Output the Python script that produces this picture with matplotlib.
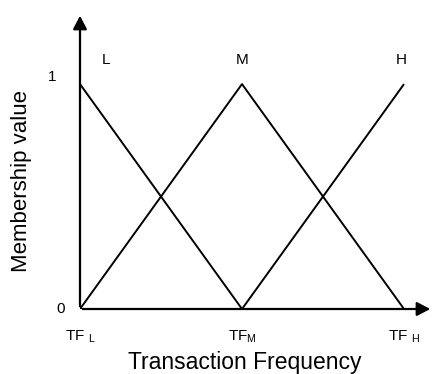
import matplotlib.pyplot as plt

plt.rcParams['font.family'] = ['Liberation Sans', 'DejaVu Sans']
plt.rcParams['mathtext.fontset'] = 'custom'
plt.rcParams['mathtext.rm'] = 'Liberation Sans'

# fuzzy sets on transaction frequency (0 = TF_L, 1 = TF_M, 2 = TF_H)
tf_points = [0, 1, 2]
low = [1, 0, 0]
medium = [0, 1, 0]
high = [0, 0, 1]
set_names = ['L', 'M', 'H']
tick_labels = [r'TF $_{\mathrm{L}}$', r'TF$_{\mathrm{M}}$', r'TF $_{\mathrm{H}}$']

fig = plt.figure(figsize=(4.34, 3.74), dpi=100)
ax = fig.add_axes([80 / 434, 65 / 374, 353 / 434, 296 / 374])
ax.set_xlim(0, 2.179)
ax.set_ylim(0, 1.316)

for series in (low, medium, high):
    ax.plot(tf_points, series, color='black', lw=1.4, solid_capstyle='butt')

for s in ax.spines.values():
    s.set_visible(False)
ax.set_xticks([])
ax.set_yticks([])

# axes with arrow heads
arrow = dict(arrowstyle='-|>,head_length=0.8,head_width=0.42', color='black', lw=1.6)
ax.annotate('', xy=(2.179, 0), xytext=(0, 0), arrowprops=arrow, annotation_clip=False)
ax.annotate('', xy=(0, 1.316), xytext=(0, 0), arrowprops=arrow, annotation_clip=False)

# set names above the peaks
name_x = [0.16, 1, 1.98]
for x, name in zip(name_x, set_names):
    ax.text(x, 1.105, name, ha='center', va='center', fontsize=11)

ax.text(-0.17, 1.03, '1', ha='center', va='center', fontsize=11)
ax.text(-0.12, 0, '0', ha='center', va='center', fontsize=11)

for x, lab in zip(tf_points, tick_labels):
    ax.text(x, -0.125, lab, ha='center', va='center', fontsize=11)

ax.text(1.02, -0.24, 'Transaction Frequency', ha='center', va='center', fontsize=16.5)
ax.text(-0.36, 0.57, 'Membership value', ha='center', va='center', fontsize=16, rotation=90)

fig.savefig('out.png', dpi=100)
